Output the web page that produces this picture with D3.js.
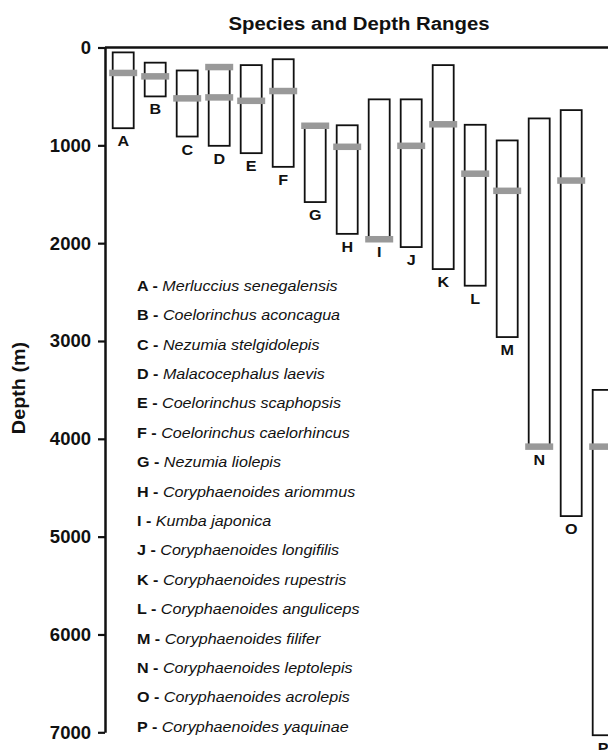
<!DOCTYPE html>
<html>
<head>
<meta charset="utf-8">
<script src="https://cdn.jsdelivr.net/npm/d3@7"></script>
<style>
  html, body { margin: 0; padding: 0; background: #fff; }
  svg { display: block; font-family: "Liberation Sans", Arial, Helvetica, sans-serif; }
</style>
</head>
<body>
<svg id="chart" width="608" height="750"></svg>
<script>
// ---- data ----
const letters = ["A","B","C","D","E","F","G","H","I","J","K","L","M","N","O","P"];
const species = [
  "Merluccius senegalensis","Coelorinchus aconcagua","Nezumia stelgidolepis",
  "Malacocephalus laevis","Coelorinchus scaphopsis","Coelorinchus caelorhincus",
  "Nezumia liolepis","Coryphaenoides ariommus","Kumba japonica",
  "Coryphaenoides longifilis","Coryphaenoides rupestris","Coryphaenoides anguliceps",
  "Coryphaenoides filifer","Coryphaenoides leptolepis","Coryphaenoides acrolepis",
  "Coryphaenoides yaquinae"
];
const minDepth = [50,155,235,200,180,120,800,795,530,530,180,790,950,725,640,3500];
const maxDepth = [825,500,910,1005,1080,1220,1580,1905,1960,2040,2265,2435,2960,4080,4790,7030];
const markLetter = ["A","B","C","D","D","E","F","G","H","I","J","K","L","M","N","O","P"];
const markDepth  = [260,295,520,200,510,545,445,800,1015,1960,1005,785,1290,1465,4080,1360,4080];
const depthTicks = [0,1000,2000,3000,4000,5000,6000,7000];
const title = "Species and Depth Ranges";
const yTitle = "Depth (m)";

// ---- chart ----
const svg = d3.select("#chart");
const W = 608;
const axisX = 105;
const ink = "#111";

const y = d3.scaleLinear().domain([0, 7000]).range([47.5, 732.3]);
const x = d3.scaleBand().domain(letters).range([107.2, 619.2])
  .paddingInner(0.34375).paddingOuter(0.171875);

// title
svg.append("text")
  .attr("transform", "translate(359,30) scale(1.1,1)")
  .attr("text-anchor", "middle")
  .attr("font-size", 18.5).attr("font-weight", "bold").attr("fill", ink)
  .text(title);

// y axis title
svg.append("text")
  .attr("transform", `translate(24.5,${388}) rotate(-90) scale(1.1,1)`)
  .attr("text-anchor", "middle")
  .attr("font-size", 18).attr("font-weight", "bold").attr("fill", ink)
  .text(yTitle);

// legend
const legend = svg.append("g");
letters.forEach((l, i) => {
  const t = legend.append("text")
    .attr("transform", `translate(137,${290.7 + i * 29.4}) scale(1.15,1)`)
    .attr("font-size", 14).attr("fill", ink);
  t.append("tspan").attr("font-weight", "bold").text(l + " - ");
  t.append("tspan").attr("font-style", "italic").text(species[i]);
});

// bars
const bars = svg.append("g");
bars.selectAll("rect.range").data(letters).join("rect")
  .attr("class", "range")
  .attr("x", d => x(d))
  .attr("width", x.bandwidth())
  .attr("y", (d, i) => y(minDepth[i]))
  .attr("height", (d, i) => y(maxDepth[i]) - y(minDepth[i]))
  .attr("fill", "#fff")
  .attr("stroke", ink)
  .attr("stroke-width", 1.8);

// gray marks
const mh = 6.5, ext = 3.5;
bars.selectAll("rect.mark").data(markLetter).join("rect")
  .attr("class", "mark")
  .attr("x", d => x(d) - ext)
  .attr("width", x.bandwidth() + 2 * ext)
  .attr("y", (d, i) => y(markDepth[i]) - mh / 2)
  .attr("height", mh)
  .attr("fill", "#999");

// bar letters
bars.selectAll("text.lab").data(letters).join("text")
  .attr("class", "lab")
  .attr("transform", (d, i) => `translate(${x(d) + x.bandwidth() / 2},${y(maxDepth[i]) + 18}) scale(1.15,1)`)
  .attr("text-anchor", "middle")
  .attr("font-size", 14).attr("font-weight", "bold").attr("fill", ink)
  .text(d => d);

// top line
svg.append("line")
  .attr("x1", axisX).attr("x2", W)
  .attr("y1", y(0)).attr("y2", y(0))
  .attr("stroke", ink).attr("stroke-width", 2.5);

// y axis
const ax = svg.append("g")
  .attr("transform", `translate(${axisX},0)`)
  .call(d3.axisLeft(y).tickValues(depthTicks).tickSize(7).tickPadding(7).tickSizeOuter(0)
    .tickFormat(d3.format("d")));
ax.select(".domain").attr("stroke", ink).attr("stroke-width", 2.5);
ax.selectAll(".tick line").attr("stroke", ink).attr("stroke-width", 2.2);
ax.selectAll(".tick text")
  .attr("font-family", "'Liberation Sans', Arial, Helvetica, sans-serif")
  .attr("font-size", 18.5).attr("font-weight", "bold").attr("fill", ink);
</script>
</body>
</html>
